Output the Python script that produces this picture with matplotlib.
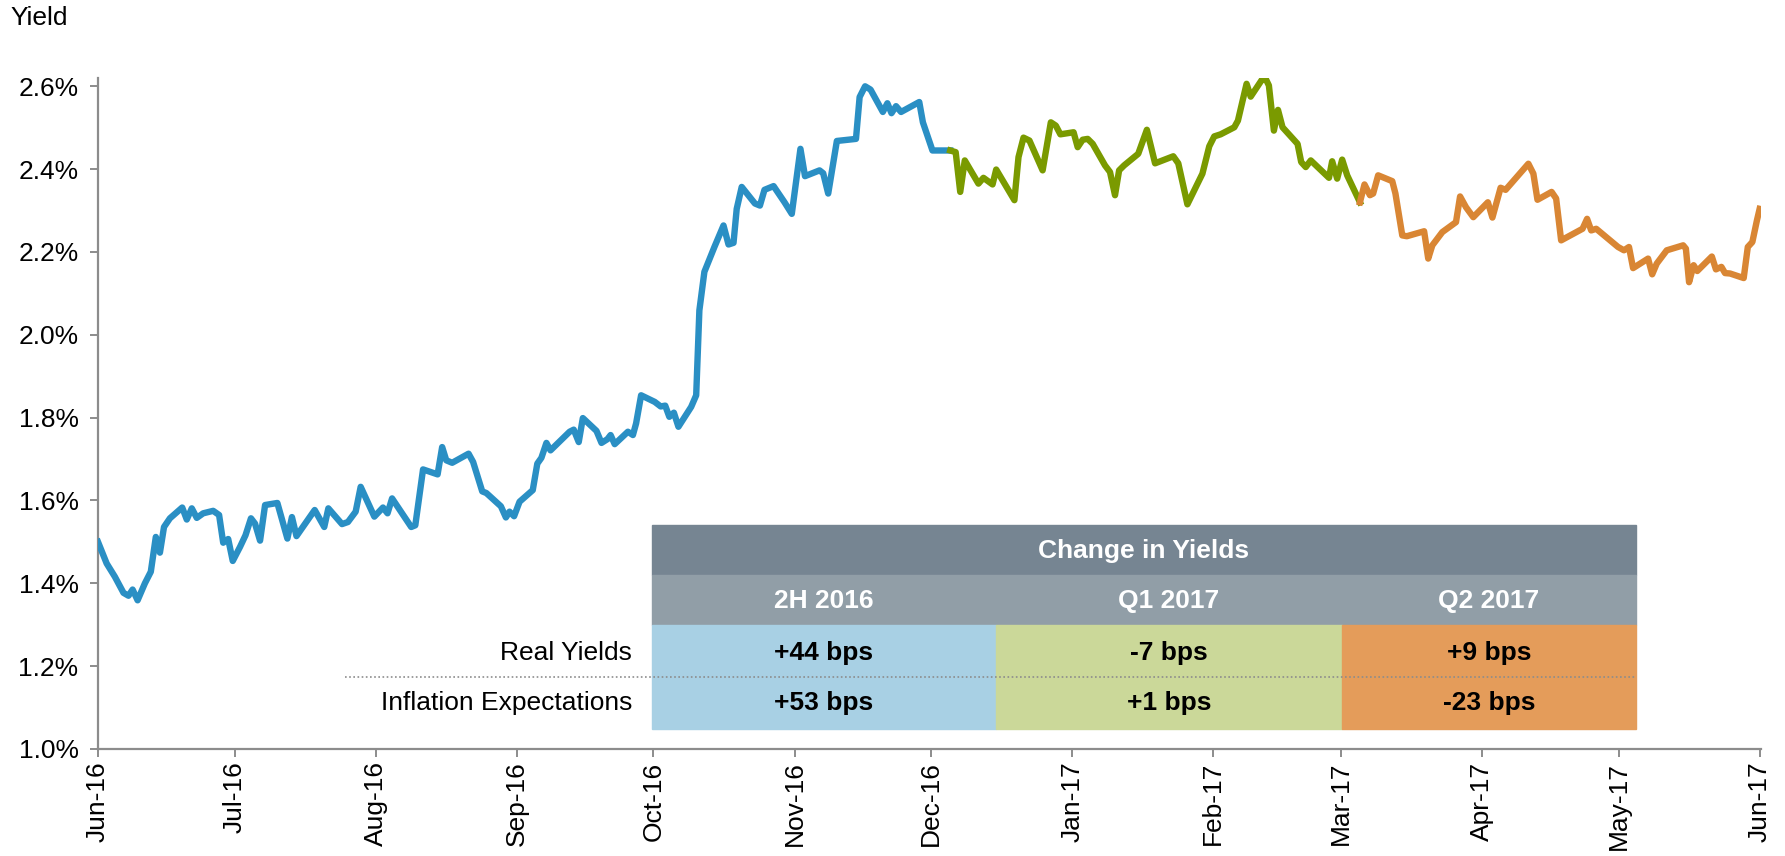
import pandas as pd
import matplotlib
matplotlib.use("Agg")
import matplotlib.pyplot as plt
import matplotlib.dates as mdates
from matplotlib.patches import Rectangle
from matplotlib.ticker import FuncFormatter

plt.rcParams['font.family'] = ['Liberation Sans', 'DejaVu Sans']

days_2h16 = [0.0, 1.9, 3.7, 5.6, 6.7, 7.6, 8.7, 10.3, 11.6, 12.7, 13.6, 14.5, 15.8, 18.5,
             19.5, 20.6, 21.7, 23.1, 25.3, 26.6, 27.5, 28.6, 29.6, 31.2, 32.4, 33.6, 34.5,
             35.6, 36.7, 39.4, 41.6, 42.6, 43.6, 47.6, 49.7, 50.6, 53.6, 54.9, 56.6, 57.7,
             60.7, 62.6, 63.6, 64.6, 68.8, 69.7, 71.4, 74.6, 75.6, 76.5, 77.8, 81.4, 82.4,
             84.4, 85.3, 88.5, 89.6, 90.4, 91.4, 92.6, 95.5, 96.5, 97.4, 98.5, 99.4, 103.6,
             104.5, 105.6, 106.5, 109.5, 110.6, 111.9, 112.6, 113.5, 116.4, 117.5, 118.2,
             119.3, 122.3, 123.6, 124.6, 125.5, 126.5, 127.5, 130.3, 131.4, 132.1, 133.2,
             135.4, 137.4, 138.5, 139.6, 140.3, 141.4, 144.3, 145.4, 146.4, 148.4, 150.8,
             152.4, 154.3, 155.3, 158.5, 159.3, 160.4, 162.3, 166.5, 167.3, 168.5, 169.7,
             172.4, 173.4, 174.3, 175.3, 176.4, 180.4, 181.2, 183.3, 187.2]
yld_2h16 = [1.500, 1.448, 1.416, 1.377, 1.370, 1.385, 1.359, 1.400, 1.428, 1.512, 1.474,
            1.536, 1.557, 1.583, 1.554, 1.581, 1.558, 1.569, 1.575, 1.565, 1.498, 1.507,
            1.454, 1.488, 1.516, 1.557, 1.544, 1.503, 1.589, 1.594, 1.508, 1.560, 1.514,
            1.577, 1.536, 1.581, 1.543, 1.548, 1.573, 1.633, 1.561, 1.583, 1.569, 1.605,
            1.536, 1.540, 1.675, 1.663, 1.729, 1.697, 1.691, 1.713, 1.693, 1.622, 1.618,
            1.586, 1.559, 1.573, 1.562, 1.597, 1.625, 1.689, 1.703, 1.739, 1.721, 1.766,
            1.771, 1.741, 1.799, 1.768, 1.739, 1.748, 1.758, 1.736, 1.766, 1.758, 1.786,
            1.854, 1.838, 1.827, 1.829, 1.802, 1.812, 1.778, 1.826, 1.854, 2.059, 2.152,
            2.212, 2.264, 2.218, 2.222, 2.304, 2.357, 2.317, 2.312, 2.350, 2.359, 2.320,
            2.292, 2.449, 2.383, 2.397, 2.390, 2.341, 2.468, 2.473, 2.574, 2.600, 2.592,
            2.538, 2.559, 2.535, 2.552, 2.538, 2.562, 2.513, 2.445, 2.445]

days_q117 = [187.2, 188.4, 189.4, 190.4, 193.4, 194.5, 196.5, 197.3, 201.3, 202.2, 203.3,
             204.6, 207.5, 209.3, 210.4, 211.4, 214.3, 215.2, 216.3, 217.4, 218.5, 221.2,
             222.3, 223.4, 224.3, 225.4, 228.5, 230.4, 232.2, 236.2, 237.3, 239.3, 242.6,
             244.1, 245.2, 246.6, 249.6, 250.4, 252.3, 253.2, 255.8, 256.5, 257.2, 258.3,
             259.2, 260.2, 263.5, 264.3, 265.3, 266.4, 270.4, 271.1, 272.2, 273.3, 274.4,
             277.2]
yld_q117 = [2.445, 2.441, 2.345, 2.421, 2.365, 2.379, 2.363, 2.399, 2.325, 2.429, 2.476,
            2.469, 2.397, 2.513, 2.505, 2.484, 2.489, 2.453, 2.471, 2.473, 2.461, 2.409,
            2.393, 2.337, 2.397, 2.409, 2.437, 2.495, 2.414, 2.431, 2.414, 2.315, 2.389,
            2.455, 2.479, 2.484, 2.501, 2.517, 2.606, 2.575, 2.618, 2.618, 2.602, 2.493,
            2.543, 2.501, 2.461, 2.417, 2.405, 2.421, 2.379, 2.419, 2.377, 2.423, 2.385,
            2.320]

days_q217 = [277.2, 278.2, 279.4, 280.1, 281.2, 284.3, 285.0, 286.5, 287.5, 291.3, 292.2,
             293.1, 295.3, 298.3, 299.2, 300.5, 302.1, 305.3, 306.3, 308.1, 309.2, 314.2,
             315.3, 316.2, 319.3, 320.3, 321.4, 326.1, 327.1, 328.0, 329.1, 333.9, 335.2,
             336.3, 337.2, 340.5, 341.4, 342.4, 344.6, 348.2, 348.8, 349.5, 350.5, 351.3,
             354.5, 355.4, 356.6, 357.4, 358.5, 361.5, 362.4, 363.4, 364.4, 365.0]
yld_q217 = [2.320, 2.363, 2.337, 2.341, 2.385, 2.371, 2.341, 2.240, 2.238, 2.250, 2.184,
            2.216, 2.248, 2.272, 2.334, 2.308, 2.284, 2.320, 2.283, 2.355, 2.350, 2.413,
            2.389, 2.326, 2.345, 2.329, 2.228, 2.256, 2.280, 2.252, 2.256, 2.212, 2.204,
            2.212, 2.161, 2.184, 2.146, 2.172, 2.204, 2.216, 2.208, 2.127, 2.168, 2.154,
            2.189, 2.158, 2.164, 2.149, 2.148, 2.137, 2.212, 2.224, 2.276, 2.304]

periods = ['2H 2016', 'Q1 2017', 'Q2 2017']
real_yields = ['+44 bps', '-7 bps', '+9 bps']
inflation_exp = ['+53 bps', '+1 bps', '-23 bps']
row_labels = ['Real Yields', 'Inflation Expectations']

line_colors = ['#2a8fc4', '#7a9a00', '#d98634']
cell_colors = ['#a8d0e4', '#cbd899', '#e49c5a']

start = pd.Timestamp('2016-06-01')

def to_dates(d):
    return start + pd.to_timedelta(d, unit='D')

W, H = 1785, 856
fig = plt.figure(figsize=(W / 100, H / 100), dpi=100)

def fx(px):
    return px / W

def fy(py):
    return 1 - py / H

FS = 19

ax = fig.add_axes([fx(98), fy(749), fx(1761) - fx(98), fy(78) - fy(749)])

for d, y, c in zip([days_2h16, days_q117, days_q217],
                   [yld_2h16, yld_q117, yld_q217], line_colors):
    ax.plot(to_dates(d), y, color=c, lw=4.6, solid_joinstyle='round', zorder=3)

ax.set_ylim(1.0, 2.62)
ax.set_yticks([1.0, 1.2, 1.4, 1.6, 1.8, 2.0, 2.2, 2.4, 2.6])
ax.yaxis.set_major_formatter(FuncFormatter(lambda v, p: f'{v:.1f}%'))
ax.set_xlim(start, to_dates(365.3))
ax.xaxis.set_major_locator(mdates.MonthLocator())
ax.xaxis.set_major_formatter(mdates.DateFormatter('%b-%y'))

for s in ['top', 'right']:
    ax.spines[s].set_visible(False)
for s in ['left', 'bottom']:
    ax.spines[s].set_color('#8c8c8c')
    ax.spines[s].set_linewidth(1.6)
ax.tick_params(axis='both', colors='#8c8c8c', length=6, width=1.4, labelcolor='black',
               labelsize=FS)
ax.tick_params(axis='x', rotation=90, pad=3)
ax.tick_params(axis='y', pad=8)

fig.text(fx(10), fy(18), 'Yield', fontsize=FS, va='center', ha='left')

# change in yields table
tl, tr = 652, 1636
cols = [652, 996, 1342, 1636]
fig.patches.append(Rectangle((fx(tl), fy(575)), fx(tr) - fx(tl), fy(525) - fy(575),
                             transform=fig.transFigure, color='#768592', zorder=5))
fig.patches.append(Rectangle((fx(tl), fy(625)), fx(tr) - fx(tl), fy(575) - fy(625),
                             transform=fig.transFigure, color='#919ea7', zorder=5))
fig.text(fx((tl + tr) / 2), fy(551), 'Change in Yields', color='white', fontsize=FS,
         fontweight='bold', ha='center', va='center', zorder=6)
for i in range(3):
    x0, x1 = cols[i], cols[i + 1]
    fig.patches.append(Rectangle((fx(x0), fy(729)), fx(x1) - fx(x0), fy(625) - fy(729),
                                 transform=fig.transFigure, color=cell_colors[i], zorder=5))
    xc = fx((x0 + x1) / 2)
    fig.text(xc, fy(601), periods[i], color='white', fontsize=FS, fontweight='bold',
             ha='center', va='center', zorder=6)
    fig.text(xc, fy(653), real_yields[i], color='black', fontsize=FS, fontweight='bold',
             ha='center', va='center', zorder=6)
    fig.text(xc, fy(703), inflation_exp[i], color='black', fontsize=FS, fontweight='bold',
             ha='center', va='center', zorder=6)

fig.lines.append(plt.Line2D([fx(345), fx(tr)], [fy(677), fy(677)], transform=fig.transFigure,
                            color='#8c8c8c', lw=1.2, ls=(0, (1, 1.5)), zorder=7))
fig.text(fx(632), fy(653), row_labels[0], fontsize=FS, ha='right', va='center')
fig.text(fx(632), fy(703), row_labels[1], fontsize=FS, ha='right', va='center')

fig.savefig('out.png', dpi=100)
